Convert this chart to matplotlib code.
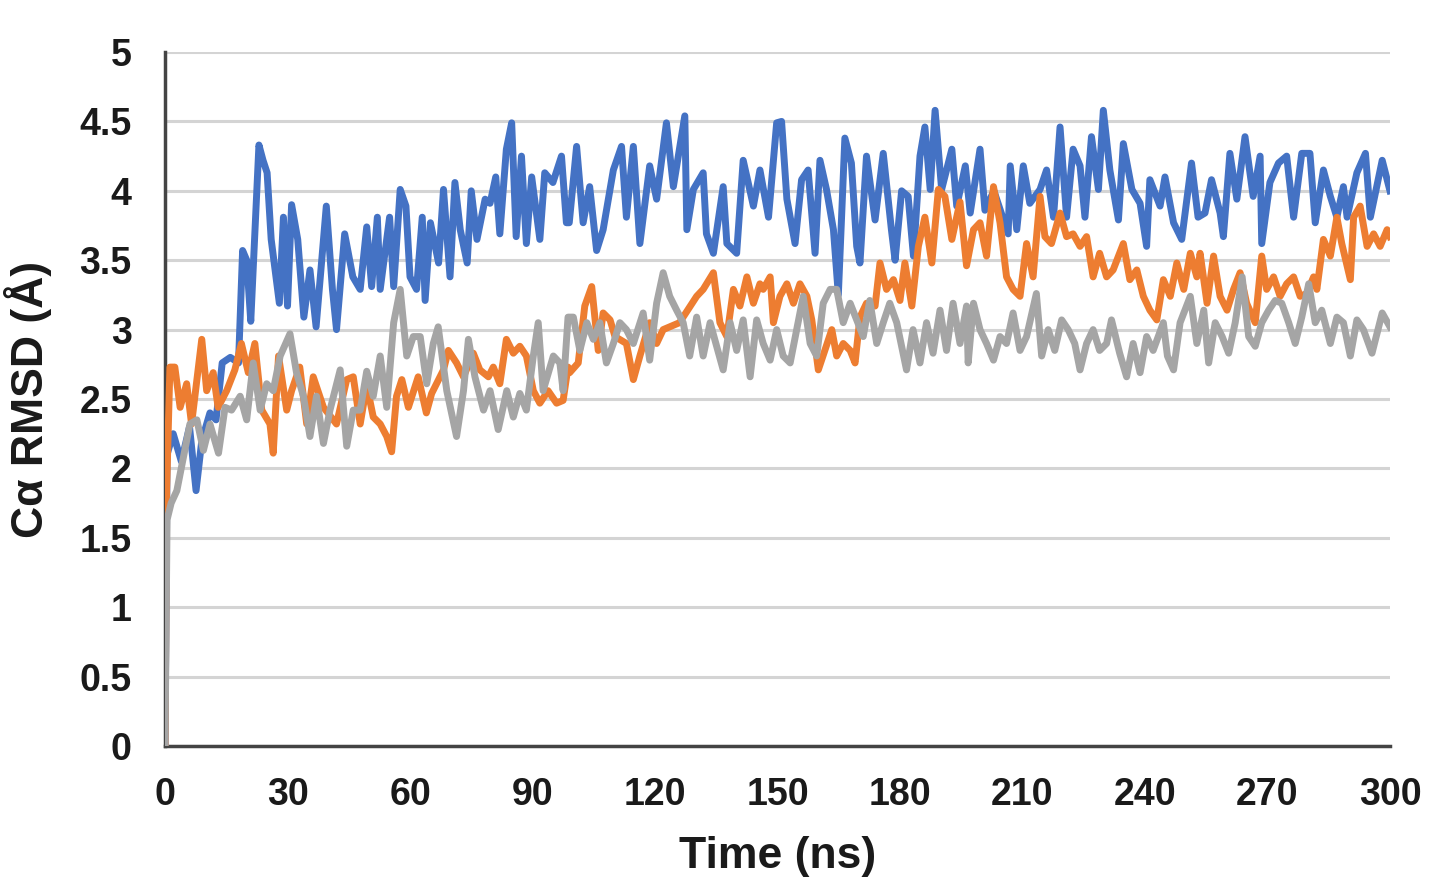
import matplotlib
matplotlib.use("Agg")
from matplotlib import pyplot as plt

# time (ns) and Cα RMSD (Å)
blue_t = [0, 0.5, 2.0, 4.0, 6.0, 7.6, 9.0, 11.0, 12.5, 14, 16, 18, 19, 20, 21, 23, 24, 25, 26, 28,
          29, 30, 31, 32.5, 34, 35.5, 37, 39.5, 41, 42, 44, 46, 47.8, 49.4, 50.6, 52, 52.7, 55, 56, 57.6,
          59, 60, 61.6, 63, 63.7, 65, 67, 68.2, 69.8, 71, 72.3, 74, 75, 76.4, 78.4, 79.6, 81, 82, 83.6, 84.9,
          86, 87.3, 88.5, 89.8, 91.8, 93, 95, 97.1, 98.3, 99, 100.8, 102.4, 104, 105.7, 107.3, 109.8, 111.8, 113, 114.7, 116.3,
          118.7, 120.4, 122.8, 124.5, 127.3, 127.8, 129.4, 131.8, 132.6, 134.3, 136.7, 137.6, 140, 141.6, 144.1, 145.7, 147.8, 149.8, 151, 152.3,
          154.3, 155.9, 157.5, 159.2, 160.4, 162, 163.7, 164.9, 166.5, 168.1, 169.4, 170.2, 171.8, 173.9, 175.9, 177.9, 178.8, 180.4, 182, 183.3,
          184.9, 186.1, 187.4, 188.6, 190.2, 192.7, 193.9, 196, 197.2, 199.6, 200.8, 203, 206.5, 207, 208.6, 210.2, 211.8, 214.3, 215.9, 217.6,
          219.2, 220.8, 222.4, 224.1, 225.3, 226.9, 228.6, 229.8, 231.4, 233.5, 234.7, 236.8, 238.8, 240.4, 241.2, 243.7, 244.9, 247, 249, 251.4,
          253, 254.7, 256.3, 258.4, 259.2, 260.8, 262.5, 264.5, 266.5, 268.2, 268.6, 270.6, 272.7, 274.7, 276.4, 278.4, 280.4, 281.7, 283.7, 285.4,
          287, 288.6, 289.5, 291.9, 294, 295.2, 298.1, 300]
blue_v = [0, 2.1, 2.25, 2.05, 2.3, 1.84, 2.2, 2.4, 2.35, 2.76, 2.8, 2.76, 3.57, 3.5, 3.06, 4.33, 4.22, 4.13, 3.65, 3.19,
          3.81, 3.17, 3.9, 3.65, 3.09, 3.43, 3.02, 3.89, 3.29, 3.0, 3.69, 3.38, 3.29, 3.74, 3.31, 3.81, 3.29, 3.81, 3.31, 4.01,
          3.89, 3.38, 3.29, 3.81, 3.21, 3.77, 3.48, 4.01, 3.38, 4.06, 3.72, 3.48, 4.0, 3.65, 3.94, 3.91, 4.1, 3.69, 4.3, 4.49,
          3.67, 4.25, 3.62, 4.1, 3.65, 4.13, 4.06, 4.25, 3.77, 3.77, 4.32, 3.77, 4.03, 3.57, 3.72, 4.15, 4.32, 3.81, 4.32, 3.62,
          4.18, 3.94, 4.49, 4.03, 4.54, 3.72, 4.01, 4.13, 3.69, 3.55, 4.03, 3.62, 3.55, 4.22, 3.89, 4.15, 3.81, 4.49, 4.5, 3.94,
          3.62, 4.08, 4.15, 3.55, 4.22, 4.01, 3.72, 3.25, 4.38, 4.2, 3.6, 3.48, 4.25, 3.79, 4.27, 3.72, 3.5, 4.0, 3.96, 3.53,
          4.25, 4.46, 4.01, 4.58, 4.01, 4.3, 3.89, 4.18, 3.84, 4.3, 3.86, 4.0, 3.69, 4.18, 3.72, 4.18, 3.91, 4.01, 4.15, 3.81,
          4.46, 3.81, 4.3, 4.18, 3.81, 4.39, 4.01, 4.58, 4.15, 3.79, 4.34, 4.01, 3.91, 3.6, 4.08, 3.89, 4.1, 3.77, 3.65, 4.2,
          3.81, 3.84, 4.08, 3.84, 3.67, 4.27, 3.94, 4.39, 3.96, 4.25, 3.62, 4.06, 4.2, 4.25, 3.81, 4.27, 4.27, 3.77, 4.15, 3.96,
          3.81, 4.03, 3.81, 4.13, 4.27, 3.81, 4.22, 4.0]

orange_t = [0, 0.4, 1.2, 2.4, 3.7, 5.3, 6.5, 9, 10.2, 11.8, 13, 15.1, 17.1, 18.7, 20.4, 22, 23.7, 25.7, 26.5, 27.8,
            29.8, 31, 33, 34.7, 36.3, 38.8, 42, 44.5, 46.1, 47.8, 49.4, 51, 52.7, 54.3, 55.5, 56.7, 58, 59.6, 62, 64,
            65.3, 68.2, 69.4, 71.4, 73.1, 75.5, 77.1, 79.2, 80.4, 82, 83.6, 85.3, 86.9, 88.5, 90.2, 91.8, 93.8, 95.9, 97.5, 98.7,
            99.1, 101.2, 102.8, 104.5, 106.1, 107.3, 109, 110.2, 113, 114.7, 116.3, 118.7, 120.4, 122, 126, 130.2, 131.8, 134.3, 135.9, 137.6,
            139.2, 140.8, 142.5, 144.1, 145.7, 146.5, 148.2, 149, 150.6, 152.3, 153.9, 155.5, 157.2, 158.4, 160, 161.6, 163.3, 164.5, 166.1, 167.8,
            169, 170.2, 171.8, 173.9, 175.1, 176.7, 178.4, 180, 181.2, 182.9, 184.5, 186.1, 187.8, 189.4, 191, 192.7, 194.7, 196.3, 198, 199.6,
            201.2, 202.9, 204.5, 206.1, 207.7, 209.4, 211, 212.6, 214.3, 215.5, 217.1, 219.2, 220.8, 222.4, 224.1, 225.7, 227.3, 228.9, 230.6, 232.2,
            234.7, 236.3, 238, 239.6, 241.2, 242.9, 244.5, 246.2, 247.8, 249.5, 251.1, 252.7, 253.5, 255.2, 256.8, 258.4, 260.1, 261.7, 263.3, 264.9,
            267, 268.6, 269.8, 271.5, 273.1, 274.7, 276.4, 278, 279.6, 281.3, 282.1, 283.7, 285.4, 287, 288.2, 290.3, 291.1, 292.7, 294.4, 296,
            297.6, 299.3, 300]
orange_v = [0, 1.85, 2.73, 2.73, 2.44, 2.61, 2.32, 2.93, 2.56, 2.69, 2.44, 2.56, 2.71, 2.9, 2.69, 2.9, 2.42, 2.32, 2.11, 2.81,
            2.42, 2.56, 2.73, 2.32, 2.66, 2.44, 2.32, 2.64, 2.66, 2.32, 2.6, 2.37, 2.32, 2.23, 2.12, 2.52, 2.64, 2.44, 2.66, 2.4,
            2.54, 2.71, 2.85, 2.76, 2.66, 2.83, 2.71, 2.66, 2.73, 2.61, 2.93, 2.83, 2.88, 2.81, 2.56, 2.47, 2.56, 2.47, 2.49, 2.73,
            2.69, 2.76, 3.17, 3.31, 2.85, 3.12, 3.07, 2.95, 2.9, 2.64, 2.81, 3.05, 2.9, 3.0, 3.05, 3.24, 3.29, 3.41, 3.05, 2.95,
            3.29, 3.17, 3.38, 3.19, 3.33, 3.29, 3.38, 3.05, 3.24, 3.33, 3.19, 3.33, 3.24, 3.07, 2.71, 2.85, 3.0, 2.81, 2.9, 2.85,
            2.76, 3.09, 3.19, 3.17, 3.48, 3.29, 3.36, 3.21, 3.48, 3.17, 3.6, 3.81, 3.48, 4.01, 3.96, 3.65, 3.92, 3.46, 3.72, 3.77,
            3.53, 4.03, 3.77, 3.38, 3.29, 3.24, 3.62, 3.38, 3.96, 3.67, 3.62, 3.84, 3.67, 3.69, 3.6, 3.67, 3.38, 3.55, 3.38, 3.43,
            3.62, 3.36, 3.43, 3.24, 3.14, 3.07, 3.36, 3.24, 3.48, 3.29, 3.55, 3.38, 3.55, 3.19, 3.53, 3.24, 3.14, 3.29, 3.41, 3.19,
            3.05, 3.53, 3.29, 3.38, 3.24, 3.33, 3.38, 3.24, 3.26, 3.38, 3.29, 3.65, 3.53, 3.81, 3.62, 3.36, 3.81, 3.89, 3.6, 3.69,
            3.6, 3.72, 3.67]

gray_t = [0, 0.5, 1.5, 2.9, 4.5, 6.1, 7.8, 9.4, 11, 13.1, 14.7, 16.3, 18.4, 20, 21.6, 23.3, 24.9, 26.5, 28.2, 30.6,
          32.2, 33.9, 35.5, 37.1, 38.8, 40.4, 42.9, 44.5, 46.1, 47.8, 49.4, 51, 52.7, 54.3, 56, 57.6, 59.2, 60.8, 62.5, 64.1,
          65.7, 66.9, 69, 71.4, 73.1, 74.3, 75.9, 78, 79.6, 81.6, 83.7, 85.3, 86.9, 88.5, 90.2, 91.4, 92.6, 95.1, 96.7, 97.5,
          98.7, 100, 101.6, 103.3, 104.9, 106.5, 108.1, 109.8, 111.4, 113, 114.7, 117.1, 118.7, 120.4, 122, 123.6, 125.3, 126.9, 128.5, 130.2,
          131.8, 133.5, 135.1, 136.7, 138.4, 140, 141.6, 143.3, 144.9, 146.5, 148.2, 149.8, 151.4, 153.1, 154.7, 156.3, 158, 159.6, 161.2, 162.9,
          164.5, 166.1, 167.8, 169.4, 171, 172.6, 174.3, 175.9, 177.5, 179.2, 181.6, 183.2, 184.9, 186.5, 188.1, 189.8, 191.4, 193, 194.7, 196.3,
          196.7, 198, 199.6, 201.2, 202.9, 204.5, 206.1, 207.7, 209.4, 211, 213.4, 214.7, 216.3, 217.9, 219.6, 221.2, 222.8, 224.1, 225.7, 227.3,
          228.9, 230.6, 231.8, 233.8, 235.5, 237.1, 238.8, 240.4, 242, 244.5, 245.5, 247, 248.6, 251.1, 252.7, 254.4, 255.6, 257.2, 258.9, 260.5,
          262.1, 263.8, 265.4, 267, 268.6, 270.3, 271.9, 273.5, 275.2, 276.8, 278.4, 280.1, 281.7, 283.3, 285.4, 287, 288.6, 290.3, 291.9, 293.5,
          295.6, 298.1, 300]
gray_v = [0, 1.63, 1.75, 1.84, 2.08, 2.32, 2.35, 2.13, 2.32, 2.11, 2.44, 2.42, 2.52, 2.35, 2.76, 2.42, 2.61, 2.56, 2.81, 2.97,
          2.69, 2.52, 2.23, 2.52, 2.18, 2.42, 2.71, 2.16, 2.42, 2.42, 2.7, 2.52, 2.81, 2.44, 3.05, 3.29, 2.81, 2.95, 2.95, 2.61,
          2.9, 3.02, 2.56, 2.23, 2.56, 2.93, 2.66, 2.42, 2.56, 2.28, 2.56, 2.37, 2.54, 2.42, 2.81, 3.05, 2.56, 2.81, 2.76, 2.56,
          3.09, 3.09, 2.85, 3.05, 2.93, 3.05, 2.76, 2.9, 3.05, 3.0, 2.9, 3.12, 2.78, 3.19, 3.41, 3.24, 3.14, 3.05, 2.81, 3.09,
          2.81, 3.05, 2.88, 2.71, 3.05, 2.85, 3.07, 2.66, 3.07, 2.9, 2.78, 3.0, 2.81, 2.76, 3.0, 3.24, 2.9, 2.81, 3.19, 3.29,
          3.29, 3.05, 3.19, 3.07, 2.95, 3.21, 2.9, 3.05, 3.19, 3.05, 2.71, 3.0, 2.76, 3.05, 2.83, 3.14, 2.85, 3.19, 2.9, 3.17,
          2.76, 3.19, 3.0, 2.9, 2.78, 2.95, 2.9, 3.12, 2.85, 2.95, 3.26, 2.81, 3.0, 2.85, 3.07, 3.0, 2.9, 2.71, 2.9, 3.0,
          2.85, 2.9, 3.07, 2.83, 2.66, 2.9, 2.69, 2.95, 2.85, 3.05, 2.81, 2.71, 3.05, 3.24, 2.9, 3.14, 2.76, 3.05, 2.95, 2.83,
          3.05, 3.38, 2.95, 2.88, 3.05, 3.14, 3.21, 3.19, 3.05, 2.9, 3.09, 3.33, 3.05, 3.14, 2.9, 3.09, 3.05, 2.81, 3.07, 3.0,
          2.83, 3.12, 3.02]

x_ticks = [0, 30, 60, 90, 120, 150, 180, 210, 240, 270, 300]
y_ticks = [0, 0.5, 1, 1.5, 2, 2.5, 3, 3.5, 4, 4.5, 5]
y_tick_labels = ["0", "0.5", "1", "1.5", "2", "2.5", "3", "3.5", "4", "4.5", "5"]

plt.rcParams['font.family'] = ['Liberation Sans', 'DejaVu Sans']
plt.rcParams['font.weight'] = 'bold'

fig = plt.figure(figsize=(14.3, 8.82), dpi=100)
ax = fig.add_axes([0.1154, 0.1542, 0.8566, 0.7868])

ax.plot(blue_t, blue_v, color='#4472C4', lw=5, solid_joinstyle='round', zorder=3)
ax.plot(orange_t, orange_v, color='#ED7D31', lw=5, solid_joinstyle='round', zorder=4)
ax.plot(gray_t, gray_v, color='#A5A5A5', lw=5, solid_joinstyle='round', zorder=5)

ax.set_xlim(0, 300)
ax.set_ylim(0, 5)
ax.set_xticks(x_ticks)
ax.set_yticks(y_ticks)
ax.set_yticklabels(y_tick_labels)
ax.tick_params(length=0, labelsize=27, colors='#1a1a1a')
ax.tick_params(axis='y', pad=24)
ax.tick_params(axis='x', pad=22)

# grid only horizontal
ax.grid(axis='y', color='#d4d4d4', lw=2.2, zorder=0)
ax.set_axisbelow(True)
for s in ['top', 'right']:
    ax.spines[s].set_visible(False)
ax.spines['left'].set_color('#444444')
ax.spines['left'].set_linewidth(2.5)
ax.spines['bottom'].set_color('#444444')
ax.spines['bottom'].set_linewidth(2.5)

ax.set_xlabel("Time (ns)", fontsize=32, fontweight='bold', color='#1a1a1a')
ax.set_ylabel("Cα RMSD (Å)", fontsize=32, fontweight='bold', color='#1a1a1a')
ax.xaxis.set_label_coords(0.5, -0.13)
ax.yaxis.set_label_coords(-0.092, 0.5)

fig.savefig("out.png", dpi=100)
